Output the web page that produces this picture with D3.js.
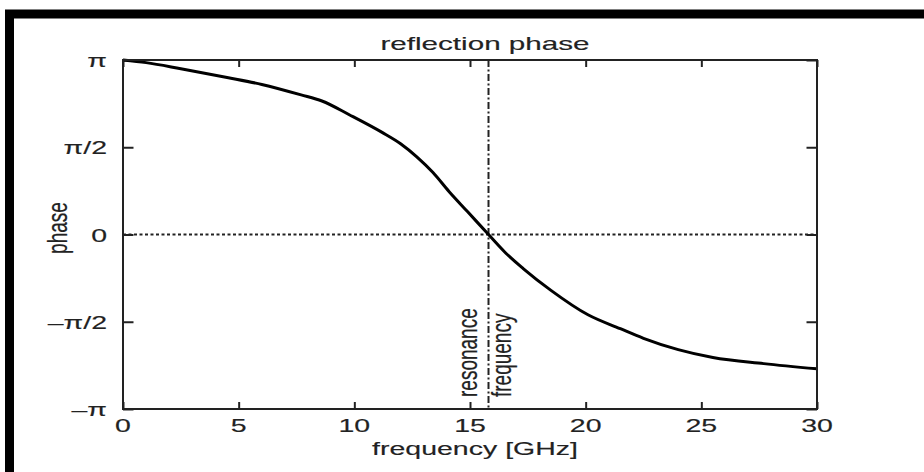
<!DOCTYPE html>
<html>
<head>
<meta charset="utf-8">
<script src="https://cdn.jsdelivr.net/npm/d3@7"></script>
<style>
  html, body { margin: 0; padding: 0; background: #fff; }
  svg { display: block; }
  text { font-family: "Liberation Sans", Arial, Helvetica, sans-serif; fill: #222; stroke: #222; stroke-width: 0.15px; }
</style>
</head>
<body>
<div id="chart"></div>
<script>
// frequency in GHz and reflection phase in units of pi
var freqGHz  = [0, 1, 2.5, 4.5, 6, 7.7, 8.6, 9.8, 11.2, 12, 12.7, 13.4, 14.1, 14.9, 15.8, 16.5, 17.3, 18.5, 20.1, 21.5, 22.5, 24, 25.5, 27.7, 30];
var phasePi  = [1, 0.985, 0.95, 0.9, 0.86, 0.8, 0.765, 0.685, 0.585, 0.52, 0.445, 0.355, 0.245, 0.13, 0, -0.1, -0.195, -0.32, -0.46, -0.54, -0.595, -0.66, -0.705, -0.74, -0.77];

var xTicks = [0, 5, 10, 15, 20, 25, 30];
var yTicks = [-1, -0.5, 0, 0.5, 1];
var yTickLabels = ["\u2013\u03c0", "\u2013\u03c0/2", "0", "\u03c0/2", "\u03c0"];
var resonanceGHz = 15.8;

var title = "reflection phase",
    xLabel = "frequency [GHz]",
    yLabel = "phase",
    markerLines = ["resonance", "frequency"];

//Page and plot box (pixels)
var width = 924, height = 472;
var box = {left: 123, right: 817, top: 60, bottom: 409};
var sx = 1.5;          // the picture is stretched sideways, so are its letters
var fontSize = 19;

var svg = d3.select("#chart").append("svg")
    .attr("width", width)
    .attr("height", height);

//Thick black frame, its right side runs off the page
svg.append("rect")
    .attr("x", 9.5).attr("y", 14)
    .attr("width", 1000).attr("height", 463)
    .attr("fill", "#fff")
    .attr("stroke", "#000")
    .attr("stroke-width", 9);

var x = d3.scaleLinear().domain([0, 30]).range([box.left, box.right]);
var y = d3.scaleLinear().domain([-1, 1]).range([box.bottom, box.top]);

//Inward ticks on all four sides
var tickLen = 7;
var axes = svg.append("g").attr("class", "axes");

axes.append("g")
    .attr("transform", "translate(0," + box.bottom + ")")
    .call(d3.axisTop(x).tickValues(xTicks).tickSize(tickLen).tickFormat(""));
axes.append("g")
    .attr("transform", "translate(0," + box.top + ")")
    .call(d3.axisBottom(x).tickValues(xTicks).tickSize(tickLen).tickFormat(""));
axes.append("g")
    .attr("transform", "translate(" + box.left + ",0)")
    .call(d3.axisRight(y).tickValues(yTicks).tickSize(tickLen * sx).tickFormat(""));
axes.append("g")
    .attr("transform", "translate(" + box.right + ",0)")
    .call(d3.axisLeft(y).tickValues(yTicks).tickSize(tickLen * sx).tickFormat(""));

axes.selectAll(".domain").remove();
axes.selectAll(".tick line")
    .attr("stroke", "#222")
    .attr("stroke-width", 2);

//zero line (dotted) and resonance line (dash-dot)
svg.append("line")
    .attr("x1", x(0)).attr("x2", x(30))
    .attr("y1", y(0)).attr("y2", y(0))
    .attr("stroke", "#222")
    .attr("stroke-width", 2)
    .attr("stroke-dasharray", "3,2.5");

svg.append("line")
    .attr("x1", x(resonanceGHz)).attr("x2", x(resonanceGHz))
    .attr("y1", box.top).attr("y2", box.bottom)
    .attr("stroke", "#222")
    .attr("stroke-width", 2)
    .attr("stroke-dasharray", "7,2.5,2,2.5");

//Phase curve
var data = freqGHz.map(function(f, i) { return {f: f, p: phasePi[i]}; });

var line = d3.line()
    .x(function(d) { return x(d.f); })
    .y(function(d) { return y(d.p); })
    .curve(d3.curveMonotoneX);

svg.append("path")
    .datum(data)
    .attr("fill", "none")
    .attr("stroke", "#000")
    .attr("stroke-width", 3)
    .attr("stroke-linejoin", "round")
    .attr("d", line);

//Box
svg.append("rect")
    .attr("x", box.left).attr("y", box.top)
    .attr("width", box.right - box.left)
    .attr("height", box.bottom - box.top)
    .attr("fill", "none")
    .attr("stroke", "#222")
    .attr("stroke-width", 2);

//Tick labels
svg.append("g").selectAll("text")
    .data(xTicks)
    .enter().append("text")
      .attr("transform", function(d) { return "translate(" + x(d) + ",432) scale(" + sx + ",1)"; })
      .attr("text-anchor", "middle")
      .style("font-size", fontSize + "px")
      .text(function(d) { return d; });

svg.append("g").selectAll("text")
    .data(yTicks)
    .enter().append("text")
      .attr("transform", function(d) { return "translate(107," + (y(d) + 7) + ") scale(" + sx + ",1)"; })
      .attr("text-anchor", "end")
      .style("font-size", fontSize + "px")
      .text(function(d, i) { return yTickLabels[i]; });

//Titles
svg.append("text")
    .attr("transform", "translate(485,50) scale(1.56,1)")
    .attr("text-anchor", "middle")
    .style("font-size", fontSize + "px")
    .text(title);

svg.append("text")
    .attr("transform", "translate(475,455) scale(" + sx + ",1)")
    .attr("text-anchor", "middle")
    .style("font-size", fontSize + "px")
    .text(xLabel);

svg.append("text")
    .attr("transform", "translate(67,228) scale(" + sx + ",1) rotate(-90)")
    .attr("text-anchor", "middle")
    .style("font-size", fontSize + "px")
    .text(yLabel);

//Marker text beside the resonance line
var marker = svg.append("text")
    .attr("transform", "translate(477,397) scale(" + sx + ",1) rotate(-90)")
    .style("font-size", fontSize + "px");

marker.selectAll("tspan")
    .data(markerLines)
    .enter().append("tspan")
      .attr("x", 0)
      .attr("y", function(d, i) { return i * 23; })
      .text(function(d) { return d; });
</script>
</body>
</html>
